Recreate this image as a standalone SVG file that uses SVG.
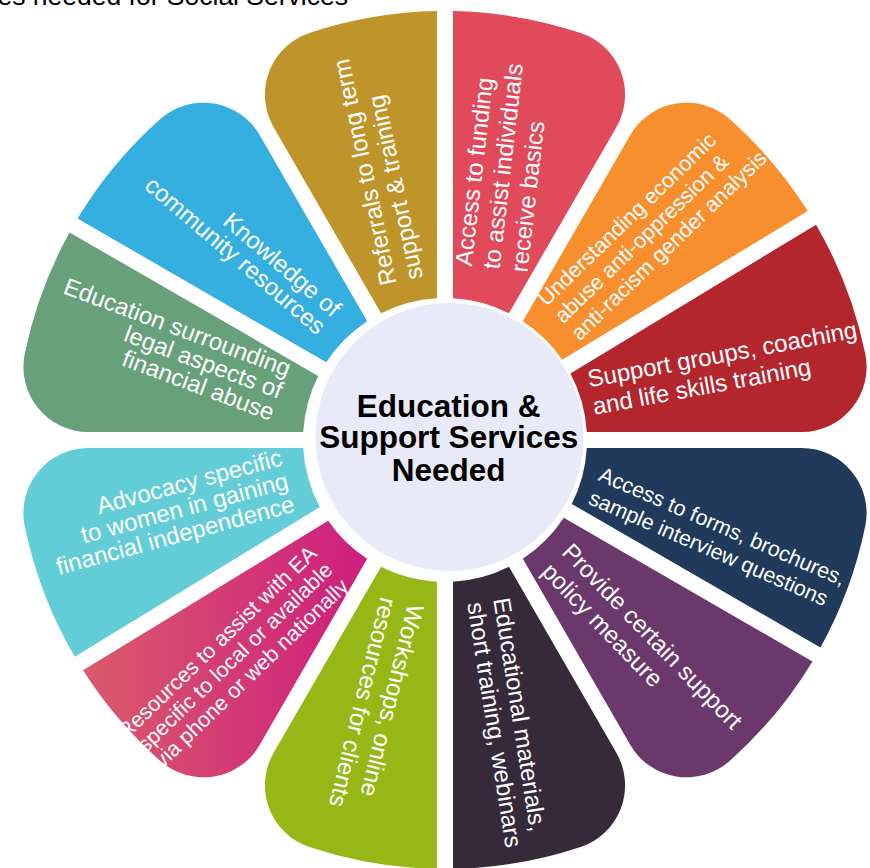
<svg xmlns="http://www.w3.org/2000/svg" xmlns:xlink="http://www.w3.org/1999/xlink" width="870" height="868" viewBox="0 0 870 868">
<style>
  .lbl { font-family: "Liberation Sans", Arial, Helvetica, sans-serif; fill: #ffffff; font-size: 24px; }
  .sm { font-size: 21.5px; }
  .end { text-anchor: end; }
  .ctr { font-family: "Liberation Sans", Arial, Helvetica, sans-serif; font-weight: bold; font-size: 31.5px; fill: #000000; text-anchor: middle; }
  .title { font-family: "Liberation Sans", Arial, Helvetica, sans-serif; font-size: 26.5px; fill: #000000; text-anchor: end; }
</style>
<defs>
  <path id="petalA" d="M 8,-141.77 L 8,-428.93 A 429 429 0 0 1 135.64,-406.98 A 65 65 0 0 1 171.37,-312.82 L 63.96,-126.78 A 142 142 0 0 0 8,-141.77 Z"/>
  <path id="petalB" d="M -8,-141.77 L -8,-428.93 A 429 429 0 0 0 -135.64,-406.98 A 65 65 0 0 0 -171.37,-312.82 L -63.96,-126.78 A 142 142 0 0 1 -8,-141.77 Z"/>
  <path id="petalA312" d="M 8,-141.77 L 8,-428.93 A 429 429 0 0 1 144.12,-404.07 A 65 65 0 0 1 177.88,-309.18 L 66.60,-125.41 A 142 142 0 0 0 8,-141.77 Z"/>
  <path id="petalA314" d="M 8,-141.77 L 8,-428.93 A 429 429 0 0 1 145.54,-403.57 A 65 65 0 0 1 178.96,-308.56 L 67.03,-125.18 A 142 142 0 0 0 8,-141.77 Z"/>
  <path id="petalB288" d="M -8,-141.77 L -8,-428.93 A 429 429 0 0 0 -127.10,-409.74 A 65 65 0 0 0 -164.80,-316.34 L -61.30,-128.08 A 142 142 0 0 1 -8,-141.77 Z"/>
  <path id="petalB286" d="M -8,-141.77 L -8,-428.93 A 429 429 0 0 0 -125.66,-410.19 A 65 65 0 0 0 -163.68,-316.92 L -60.84,-128.30 A 142 142 0 0 1 -8,-141.77 Z"/>
  <linearGradient id="pinkGrad" gradientUnits="userSpaceOnUse" x1="-365" y1="0" x2="-75" y2="0" gradientTransform="rotate(121.4)">
    <stop offset="0" stop-color="#DA5B6A"/>
    <stop offset="1" stop-color="#CD1E7E"/>
  </linearGradient>
</defs>
<rect width="870" height="868" fill="#ffffff"/>
<text class="title" x="348" y="5">es needed for Social Services</text>
<g id="connectors"></g>
<g id="node-referrals">
  <use xlink:href="#petalB" href="#petalB" transform="translate(445 440) rotate(0)" fill="#BF952B"/>
  <text class="lbl" transform="translate(396.7 283.3) rotate(-102)"><tspan x="0" y="0">Referrals to long term</tspan><tspan x="0" y="27">support &amp; training</tspan></text>
</g>
<g id="node-funding">
  <use xlink:href="#petalA" href="#petalA" transform="translate(445 440) rotate(0)" fill="#E04A5A"/>
  <text class="lbl" transform="translate(471.7 266.7) rotate(-83.5)"><tspan x="0" y="0">Access to funding</tspan><tspan x="0" y="28">to assist individuals</tspan><tspan x="0" y="56">receive basics</tspan></text>
</g>
<g id="node-understanding">
  <use xlink:href="#petalB288" href="#petalB288" transform="translate(445 440) rotate(58.8)" fill="#F78F2F"/>
  <text class="lbl sm" transform="translate(546.5 307) rotate(-44)"><tspan x="0" y="0">Understanding economic</tspan><tspan x="0" y="24">abuse anti-oppression &amp;</tspan><tspan x="0" y="48">anti-racism gender analysis</tspan></text>
</g>
<g id="node-support-groups">
  <use xlink:href="#petalA312" href="#petalA312" transform="translate(445 440) rotate(58.8)" fill="#B4262E"/>
  <text class="lbl" transform="translate(589.3 387.3) rotate(-10.5)"><tspan x="0" y="0">Support groups, coaching</tspan><tspan x="0" y="28">and life skills training</tspan></text>
</g>
<g id="node-forms">
  <use xlink:href="#petalB" href="#petalB" transform="translate(445 440) rotate(120)" fill="#21395B"/>
  <text class="lbl sm" transform="translate(597.3 480) rotate(23.5)"><tspan x="0" y="0">Access to forms, brochures,</tspan><tspan x="0" y="25.5">sample interview questions</tspan></text>
</g>
<g id="node-policy">
  <use xlink:href="#petalA" href="#petalA" transform="translate(445 440) rotate(120)" fill="#6B386B"/>
  <text class="lbl" transform="translate(560.7 553.3) rotate(46)"><tspan x="0" y="0">Provide certain support</tspan><tspan x="0" y="28">policy measure</tspan></text>
</g>
<g id="node-educational-materials">
  <use xlink:href="#petalB" href="#petalB" transform="translate(445 440) rotate(180)" fill="#352A3A"/>
  <text class="lbl" transform="translate(493.3 599.3) rotate(81)"><tspan x="0" y="0">Educational materials,</tspan><tspan x="0" y="26.5">short training, webinars</tspan></text>
</g>
<g id="node-workshops">
  <use xlink:href="#petalA" href="#petalA" transform="translate(445 440) rotate(180)" fill="#95B816"/>
  <text class="lbl" transform="translate(408 603) rotate(104)"><tspan x="0" y="0">Workshops, online</tspan><tspan x="0" y="28">resources for clients</tspan></text>
</g>
<g id="node-resources-ea">
  <use xlink:href="#petalB286" href="#petalB286" transform="translate(445 440) rotate(238.6)" fill="url(#pinkGrad)"/>
  <text class="lbl sm end" transform="translate(318 555) rotate(-44)"><tspan x="0" y="0">Resources to assist with EA</tspan><tspan x="0" y="23">specific to local or available</tspan><tspan x="0" y="46">via phone or web nationally</tspan></text>
</g>
<g id="node-advocacy">
  <use xlink:href="#petalA314" href="#petalA314" transform="translate(445 440) rotate(238.6)" fill="#63CDD7"/>
  <text class="lbl end" transform="translate(283.5 465) rotate(-15)"><tspan x="0" y="0">Advocacy specific</tspan><tspan x="0" y="24">to women in gaining</tspan><tspan x="0" y="48">financial independence</tspan></text>
</g>
<g id="node-legal">
  <use xlink:href="#petalB" href="#petalB" transform="translate(445 440) rotate(300)" fill="#67A07B"/>
  <text class="lbl end" transform="translate(287 377) rotate(20.5)"><tspan x="0" y="0">Education surrounding</tspan><tspan x="0" y="23.5">legal aspects of</tspan><tspan x="0" y="47">financial abuse</tspan></text>
</g>
<g id="node-community">
  <use xlink:href="#petalA" href="#petalA" transform="translate(445 440) rotate(300)" fill="#35AEE0"/>
  <text class="lbl end" transform="translate(332 318) rotate(40.5)"><tspan x="0" y="0">Knowledge of</tspan><tspan x="0" y="23.5">community resources</tspan></text>
</g>
<g id="node-center">
  <circle cx="449.5" cy="437" r="134" fill="#E8EBF7"/>
  <text class="ctr" x="448.7" y="416.5">Education &amp;</text>
  <text class="ctr" x="448.7" y="448">Support Services</text>
  <text class="ctr" x="448.7" y="480.5">Needed</text>
</g>
</svg>
